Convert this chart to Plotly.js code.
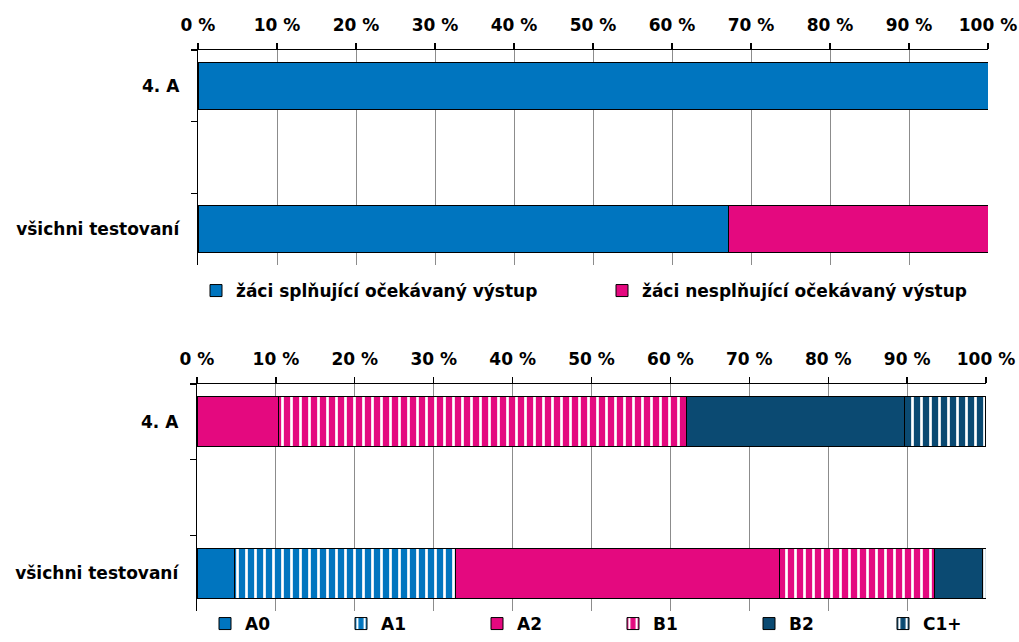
<!DOCTYPE html>
<html>
<head>
<meta charset="utf-8">
<script src="https://cdn.plot.ly/plotly-3.0.1.min.js"></script>
<style>html,body{margin:0;padding:0;background:#fff;}#chart{width:1019px;height:642px;}</style>
</head>
<body>
<div id="chart"></div>
<script>
// ---- data ----
const rows = ['4. A', ' ', 'všichni testovaní'];
const groups = ['4. A', 'všichni testovaní'];

const topNames = ['žáci splňující očekávaný výstup', 'žáci nesplňující očekávaný výstup'];
const splnujici = [100, 67.2];
const nesplnujici = [0, 32.8];

const levels = ['A0', 'A1', 'A2', 'B1', 'B2', 'C1+'];
const levelA0 = [0, 4.7];
const levelA1 = [0, 28.0];
const levelA2 = [10.34, 41.1];
const levelB1 = [51.72, 19.7];
const levelB2 = [27.59, 6.0];
const levelC1 = [10.34, 0.5];

const tickVals = [0, 10, 20, 30, 40, 50, 60, 70, 80, 90, 100];
const tickText = ['0 %', '10 %', '20 %', '30 %', '40 %', '50 %', '60 %', '70 %', '80 %', '90 %', '100 %'];

// ---- styles ----
const BLUE = '#0075BF', PINK = '#E4097F', DARK = '#0B4A72';
const FONT = 'DejaVu Sans, Verdana, sans-serif';
const line = {color: '#000', width: 1};
function stripes(bg) {
  return {shape: '|', bgcolor: bg, fgcolor: '#ffffff', size: 9, solidity: 0.3};
}

const traces = [
  {type: 'bar', orientation: 'h', name: topNames[0], x: splnujici, y: groups, xaxis: 'x', yaxis: 'y',
   marker: {color: BLUE, line: line}, legend: 'legend'},
  {type: 'bar', orientation: 'h', name: topNames[1], x: nesplnujici, y: groups, xaxis: 'x', yaxis: 'y',
   marker: {color: PINK, line: line}, legend: 'legend2'},
  {type: 'bar', orientation: 'h', name: levels[0], x: levelA0, y: groups, xaxis: 'x2', yaxis: 'y2',
   marker: {color: BLUE, line: line}, legend: 'legend3'},
  {type: 'bar', orientation: 'h', name: levels[1], x: levelA1, y: groups, xaxis: 'x2', yaxis: 'y2',
   marker: {color: BLUE, line: line, pattern: stripes(BLUE)}, legend: 'legend3'},
  {type: 'bar', orientation: 'h', name: levels[2], x: levelA2, y: groups, xaxis: 'x2', yaxis: 'y2',
   marker: {color: PINK, line: line}, legend: 'legend3'},
  {type: 'bar', orientation: 'h', name: levels[3], x: levelB1, y: groups, xaxis: 'x2', yaxis: 'y2',
   marker: {color: PINK, line: line, pattern: stripes(PINK)}, legend: 'legend3'},
  {type: 'bar', orientation: 'h', name: levels[4], x: levelB2, y: groups, xaxis: 'x2', yaxis: 'y2',
   marker: {color: DARK, line: line}, legend: 'legend3'},
  {type: 'bar', orientation: 'h', name: levels[5], x: levelC1, y: groups, xaxis: 'x2', yaxis: 'y2',
   marker: {color: DARK, line: line, pattern: stripes(DARK)}, legend: 'legend4'}
];
traces.forEach(t => { t.hoverinfo = 'x+name'; });

const tickFont = {family: FONT, size: 17, color: '#000', weight: 'bold'};
function xAxis(domain, anchor) {
  return {domain: domain, anchor: anchor, side: 'top', range: [0, 100], fixedrange: true,
    tickvals: tickVals, ticktext: tickText, tickfont: tickFont,
    showline: true, linecolor: '#000', linewidth: 1.3,
    ticks: 'outside', ticklen: 6, tickcolor: '#000', tickwidth: 1.3,
    showgrid: true, gridcolor: '#8c8c8c', gridwidth: 1, zeroline: false, ticklabelstandoff: 5};
}
function yAxis(domain, anchor) {
  return {domain: domain, anchor: anchor, type: 'category', categoryorder: 'array', categoryarray: rows,
    range: [2.5, -0.5], fixedrange: true, tickson: 'boundaries', tickfont: tickFont,
    showline: true, linecolor: '#000', linewidth: 1.3,
    ticks: 'outside', ticklen: 6, tickcolor: '#000', tickwidth: 1.3,
    showgrid: false, zeroline: false, ticklabelstandoff: 14};
}
const legendFont = {family: FONT, size: 17, color: '#000', weight: 'bold'};
function legendAt(xpx, ypx, anchor, extra) {
  return Object.assign({orientation: 'h', x: xpx / 1019, xanchor: 'left', y: 1 - ypx / 642, yanchor: anchor,
    font: legendFont, traceorder: 'normal', itemclick: false, borderwidth: 0,
    bgcolor: 'rgba(0,0,0,0)'}, extra || {});
}

const layout = {
  width: 1019, height: 642,
  margin: {l: 0, r: 0, t: 0, b: 0},
  paper_bgcolor: '#fff', plot_bgcolor: '#fff',
  barmode: 'stack', bargap: 0.34,
  xaxis: xAxis([198/1019, 988/1019], 'y'),
  yaxis: yAxis([1 - 265/642, 1 - 50/642], 'x'),
  xaxis2: xAxis([197/1019, 986/1019], 'y2'),
  yaxis2: yAxis([1 - 611/642, 1 - 384/642], 'x2'),
  showlegend: true,
  legend: legendAt(196, 291, 'middle'),
  legend2: legendAt(602, 291, 'middle'),
  legend3: legendAt(205, 642, 'bottom', {entrywidth: 91, entrywidthmode: 'pixels'}),
  legend4: legendAt(883, 642, 'bottom')
};

Plotly.newPlot('chart', traces, layout, {displayModeBar: false, staticPlot: true});
</script>
</body>
</html>
